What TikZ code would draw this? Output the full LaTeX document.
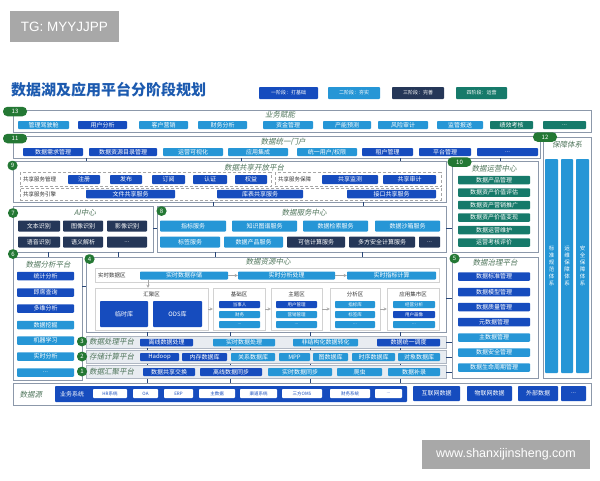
\documentclass[tikz,border=0pt]{standalone}
\usepackage{fontspec}
\setmainfont{Noto Sans CJK SC}
\newfontfamily\itfont{Noto Sans CJK SC}[FakeSlant=0.2]
\newfontfamily\wmfont{Liberation Sans}
\definecolor{cdk}{RGB}{22,76,190}
\definecolor{clt}{RGB}{38,150,214}
\definecolor{cnv}{RGB}{37,55,88}
\definecolor{ctl}{RGB}{22,122,106}
\definecolor{cbadge}{RGB}{36,120,52}
\definecolor{ctitle}{RGB}{28,90,175}
\definecolor{cgroup}{RGB}{80,118,92}
\definecolor{cpanel}{RGB}{140,152,170}
\definecolor{cband}{RGB}{232,236,241}
\definecolor{clink}{RGB}{40,70,120}
\definecolor{cwm}{RGB}{168,168,168}
\begin{document}
\begin{tikzpicture}[x=1pt,y=-1pt]
\tikzstyle{box} = [rectangle, rounded corners=0.8pt, inner sep=0pt, minimum height=8pt, text=white, font=\fontsize{6}{6.5}\selectfont]
\tikzstyle{dkbox} = [box, fill=cdk]
\tikzstyle{ltbox} = [box, fill=clt]
\tikzstyle{nvbox} = [box, fill=cnv]
\tikzstyle{tlbox} = [box, fill=ctl]
\tikzstyle{smallbox} = [minimum height=7pt, font=\fontsize{4.5}{5}\selectfont]
\tikzstyle{panel} = [rectangle, draw=cpanel, line width=0.6pt, fill=white, inner sep=0pt]
\tikzstyle{band} = [panel, fill=cband, draw=cpanel!70]
\tikzstyle{zone} = [rectangle, draw=gray!35, fill=white, inner sep=0pt]
\tikzstyle{share} = [rectangle, draw=gray!70, densely dashed, line width=0.5pt, inner sep=0pt]
\tikzstyle{badge} = [rectangle, rounded corners=4.5pt, fill=cbadge, text=white, minimum width=10pt, minimum height=9.5pt, inner sep=0pt, font=\fontsize{6}{6}\selectfont]
\tikzstyle{grouptitle} = [inner sep=0pt, text=cgroup, font=\itfont\fontsize{7.5}{8}\selectfont]
\tikzstyle{zonetitle} = [inner sep=0pt, text=black!80, font=\fontsize{5.5}{6}\selectfont]
\tikzstyle{link} = [draw=clink, line width=1pt]
\tikzstyle{flow} = [->, >=stealth, draw=gray!70, line width=0.4pt]
\tikzstyle{wmark} = [fill=cwm, text=white, inner sep=0pt]
\useasboundingbox (0,0) rectangle (600,480);
%
\node (wm1) [wmark, minimum width=109pt, minimum height=31pt, font=\wmfont\fontsize{13.5}{14}\selectfont] at (64.5,26.5) {TG: MYYJJPP};
\node (wm2) [wmark, minimum width=168pt, minimum height=29pt, font=\wmfont\fontsize{12.5}{13}\selectfont] at (506,454.5) {www.shanxijinsheng.com};
%
\node (title) [anchor=west, inner sep=0pt, text=ctitle, font=\bfseries\fontsize{15}{16}\selectfont] at (11,90) {数据湖及应用平台分阶段规划};
\node (leg1) [dkbox, minimum width=59pt, minimum height=12pt, font=\fontsize{5}{6}\selectfont] at (288.5,93) {一阶段：打基础};
\node (leg2) [ltbox, minimum width=52pt, minimum height=12pt, font=\fontsize{5}{6}\selectfont] at (354,93) {二阶段：夯实};
\node (leg3) [nvbox, minimum width=52pt, minimum height=12pt, font=\fontsize{5}{6}\selectfont] at (418,93) {三阶段：完善};
\node (leg4) [tlbox, minimum width=51pt, minimum height=12pt, font=\fontsize{5}{6}\selectfont] at (481.5,93) {四阶段：运营};
%
% panels
\node (p13) [panel, minimum width=578pt, minimum height=22pt] at (302,121) {};
\node (p11) [panel, minimum width=527pt, minimum height=22pt] at (276.5,147) {};
\node (p9) [panel, minimum width=433pt, minimum height=41pt] at (229.5,181.5) {};
\node (p10) [panel, minimum width=86pt, minimum height=91pt] at (495,206.5) {};
\node (p12) [panel, minimum width=48pt, minimum height=241pt] at (567,257.5) {};
\node (p7) [panel, minimum width=140pt, minimum height=46pt] at (83,229) {};
\node (p8) [panel, minimum width=289pt, minimum height=46pt] at (301.5,229) {};
\node (p6) [panel, minimum width=69pt, minimum height=123pt] at (47.5,318.5) {};
\node (p4) [panel, minimum width=360pt, minimum height=75pt] at (266,294.5) {};
\node (p5) [panel, minimum width=86pt, minimum height=121pt] at (495,317.5) {};
\node (p3) [band, minimum width=360pt, minimum height=12pt] at (266,342) {};
\node (p2) [band, minimum width=360pt, minimum height=13pt] at (266,357) {};
\node (p1) [band, minimum width=360pt, minimum height=13pt] at (266,372) {};
\node (p0) [panel, minimum width=578pt, minimum height=22pt] at (302,394) {};
%
% 13
\node (t13) [grouptitle] at (280,115) {业务赋能};
\node (u1) [ltbox, minimum width=51pt] at (43.5,125) {管理驾驶舱};
\node (u2) [dkbox, minimum width=49pt] at (102.5,125) {用户分析};
\node (u3) [ltbox, minimum width=49pt] at (163.5,125) {客户营销};
\node (u4) [ltbox, minimum width=49pt] at (222.5,125) {财务分析};
\node (u5) [ltbox, minimum width=50pt] at (288,125) {资金管理};
\node (u6) [ltbox, minimum width=48pt] at (347,125) {产能预测};
\node (u7) [ltbox, minimum width=50pt] at (403,125) {风险审计};
\node (u8) [ltbox, minimum width=46pt] at (460,125) {监管报送};
\node (u9) [tlbox, minimum width=43pt] at (511.5,125) {绩效考核};
\node (u10) [tlbox, minimum width=43pt] at (564.5,125) {...};
% 11
\node (t11) [grouptitle] at (283,142) {数据统一门户};
\node (m1) [dkbox, minimum width=60pt] at (53,152) {数据需求管理};
\node (m2) [dkbox, minimum width=68pt] at (123,152) {数据资源目录管理};
\node (m3) [ltbox, minimum width=60pt] at (193,152) {运营可视化};
\node (m4) [ltbox, minimum width=60pt] at (258,152) {应用集成};
\node (m5) [ltbox, minimum width=60pt] at (327,152) {统一用户/权限};
\node (m6) [dkbox, minimum width=51pt] at (387.5,152) {租户管理};
\node (m7) [dkbox, minimum width=52pt] at (445,152) {平台管理};
\node (m8) [dkbox, minimum width=61pt] at (507.5,152) {...};
% 9
\node (t9) [grouptitle] at (254,167.5) {数据共享开放平台};
\node (d1) [share, minimum width=251pt, minimum height=14pt] at (145.5,179.5) {};
\node (d2) [share, minimum width=166pt, minimum height=14pt] at (358,179.5) {};
\node (d3) [share, minimum width=421pt, minimum height=12pt] at (230.5,194) {};
\node (d1t) [zonetitle, anchor=west] at (23,179.5) {共享服务管理};
\node (d2t) [zonetitle, anchor=west] at (278,179.5) {共享服务保障};
\node (d3t) [zonetitle, anchor=west] at (23,194) {共享服务引擎};
\node (s1) [dkbox, minimum width=32pt, minimum height=9pt] at (84,179.5) {注册};
\node (s2) [dkbox, minimum width=32pt, minimum height=9pt] at (126,179.5) {发布};
\node (s3) [dkbox, minimum width=33pt, minimum height=9pt] at (168.5,179.5) {订阅};
\node (s4) [dkbox, minimum width=34pt, minimum height=9pt] at (210,179.5) {认证};
\node (s5) [dkbox, minimum width=32pt, minimum height=9pt] at (251,179.5) {权益};
\node (s6) [dkbox, minimum width=56pt, minimum height=9pt] at (350,179.5) {共享监测};
\node (s7) [dkbox, minimum width=53pt, minimum height=9pt] at (409.5,179.5) {共享审计};
\node (s8) [dkbox, minimum width=89pt, minimum height=8.5pt] at (130.5,194) {文件共享服务};
\node (s9) [dkbox, minimum width=86pt, minimum height=8.5pt] at (260,194) {库表共享服务};
\node (s10) [dkbox, minimum width=89pt, minimum height=8.5pt] at (391.5,194) {接口共享服务};
% 10
\node (t10) [grouptitle] at (494,169) {数据运营中心};
\node (o1) [tlbox, minimum width=72pt, minimum height=8.5pt] at (494,180) {数据产品管理};
\node (o2) [tlbox, minimum width=72pt, minimum height=8.5pt] at (494,192.5) {数据资产价值评估};
\node (o3) [tlbox, minimum width=72pt, minimum height=8.5pt] at (494,205) {数据资产营销推广};
\node (o4) [tlbox, minimum width=72pt, minimum height=8.5pt] at (494,217.5) {数据资产价值变现};
\node (o5) [tlbox, minimum width=72pt, minimum height=8.5pt] at (494,230) {数据运营维护};
\node (o6) [tlbox, minimum width=72pt, minimum height=8.5pt] at (494,242.5) {运营考核评价};
% 12
\node (t12) [grouptitle] at (567,145) {保障体系};
\node (g12a) [ltbox, minimum width=13pt, minimum height=214pt, align=center, font=\fontsize{5.5}{7}\selectfont] at (551.5,266) {标\\准\\规\\范\\体\\系};
\node (g12b) [ltbox, minimum width=12pt, minimum height=214pt, align=center, font=\fontsize{5.5}{7}\selectfont] at (567,266) {运\\维\\保\\障\\体\\系};
\node (g12c) [ltbox, minimum width=13pt, minimum height=214pt, align=center, font=\fontsize{5.5}{7}\selectfont] at (582.5,266) {安\\全\\保\\障\\体\\系};
% 7
\node (t7) [grouptitle] at (85,213) {AI中心};
\node (a1) [nvbox, minimum width=42pt, minimum height=11pt] at (39,226) {文本识别};
\node (a2) [nvbox, minimum width=40pt, minimum height=11pt] at (83,226) {图像识别};
\node (a3) [nvbox, minimum width=40pt, minimum height=11pt] at (127,226) {影像识别};
\node (a4) [nvbox, minimum width=42pt, minimum height=11pt] at (39,242) {语音识别};
\node (a5) [nvbox, minimum width=40pt, minimum height=11pt] at (83,242) {语义解析};
\node (a6) [nvbox, minimum width=40pt, minimum height=11pt] at (127,242) {...};
% 8
\node (t8) [grouptitle] at (304,213) {数据服务中心};
\node (v1) [ltbox, minimum width=66pt, minimum height=11pt] at (193,226) {指标服务};
\node (v2) [ltbox, minimum width=65pt, minimum height=11pt] at (264.5,226) {知识图谱服务};
\node (v3) [ltbox, minimum width=65pt, minimum height=11pt] at (335.5,226) {数据检索服务};
\node (v4) [ltbox, minimum width=65pt, minimum height=11pt] at (407.5,226) {数据沙箱服务};
\node (v5) [ltbox, minimum width=60pt, minimum height=11pt] at (190,242) {标签服务};
\node (v6) [ltbox, minimum width=59pt, minimum height=11pt] at (253.5,242) {数据产品服务};
\node (v7) [nvbox, minimum width=58pt, minimum height=11pt] at (316,242) {可信计算服务};
\node (v8) [nvbox, minimum width=66pt, minimum height=11pt] at (382,242) {多方安全计算服务};
\node (v9) [nvbox, minimum width=21pt, minimum height=11pt] at (429.5,242) {...};
% 6
\node (t6) [grouptitle] at (48,265) {数据分析平台};
\node (n1) [dkbox, minimum width=57pt, minimum height=8.5pt] at (45.5,276) {统计分析};
\node (n2) [dkbox, minimum width=57pt, minimum height=8.5pt] at (45.5,292.5) {即席查询};
\node (n3) [dkbox, minimum width=57pt, minimum height=8.5pt] at (45.5,308.5) {多维分析};
\node (n4) [ltbox, minimum width=57pt, minimum height=8.5pt] at (45.5,325) {数据挖掘};
\node (n5) [ltbox, minimum width=57pt, minimum height=8.5pt] at (45.5,340.5) {机器学习};
\node (n6) [ltbox, minimum width=57pt, minimum height=8.5pt] at (45.5,356.5) {实时分析};
\node (n7) [ltbox, minimum width=57pt, minimum height=8.5pt] at (45.5,372.5) {...};
% 4
\node (t4) [grouptitle] at (268,262) {数据资源中心};
\node (zrt) [zone, minimum width=344pt, minimum height=14pt] at (267,275) {};
\node (zrtt) [zonetitle, anchor=west] at (98,275) {实时数据区};
\node (r1) [ltbox] [minimum width=88pt] at (184,275.5) {实时数据存储};
\node (r2) [ltbox] [minimum width=97pt] at (286.5,275.5) {实时分析处理};
\node (r3) [ltbox] [minimum width=89pt] at (391.5,275.5) {实时指标计算};
\node (zh) [zone, minimum width=113pt, minimum height=42pt] at (151.5,309) {};
\node (zb) [zone, minimum width=52pt, minimum height=42pt] at (239,309) {};
\node (zt) [zone, minimum width=51pt, minimum height=42pt] at (296.5,309) {};
\node (za) [zone, minimum width=50pt, minimum height=42pt] at (355,309) {};
\node (zm) [zone, minimum width=52pt, minimum height=42pt] at (413,309) {};
\node (zht) [zonetitle] at (151.5,294) {汇聚区};
\node (zbt) [zonetitle] at (239,294) {基础区};
\node (ztt) [zonetitle] at (296.5,294) {主题区};
\node (zat) [zonetitle] at (355,294) {分析区};
\node (zmt) [zonetitle] at (413,294) {应用集市区};
\node (h1) [dkbox, minimum width=48pt, minimum height=26pt] at (124,314) {临时库};
\node (h2) [dkbox, minimum width=49pt, minimum height=26pt] at (177.5,314) {ODS库};
\node (bz1) [dkbox, smallbox, minimum width=41pt] at (239.5,304.5) {当事人};
\node (bz2) [ltbox, smallbox, minimum width=41pt] at (239.5,314.5) {财务};
\node (bz3) [ltbox, smallbox, minimum width=41pt] at (239.5,324.5) {...};
\node (e1) [dkbox, smallbox, minimum width=41pt] at (296.5,304.5) {用户管理};
\node (e2) [ltbox, smallbox, minimum width=41pt] at (296.5,314.5) {营销管理};
\node (e3) [ltbox, smallbox, minimum width=41pt] at (296.5,324.5) {...};
\node (f1) [ltbox, smallbox, minimum width=40pt] at (355,304.5) {指标库};
\node (f2) [ltbox, smallbox, minimum width=40pt] at (355,314.5) {标签库};
\node (f3) [ltbox, smallbox, minimum width=40pt] at (355,324.5) {...};
\node (k1) [ltbox, smallbox, minimum width=42pt] at (414,304.5) {经营分析};
\node (k2) [dkbox, smallbox, minimum width=42pt] at (414,314.5) {用户画像};
\node (k3) [ltbox, smallbox, minimum width=42pt] at (414,324.5) {...};
% 5
\node (t5) [grouptitle] at (495,263) {数据治理平台};
\node (q1) [dkbox, minimum width=72pt, minimum height=8.5pt] at (494,276.5) {数据标准管理};
\node (q2) [dkbox, minimum width=72pt, minimum height=8.5pt] at (494,292) {数据模型管理};
\node (q3) [dkbox, minimum width=72pt, minimum height=8.5pt] at (494,307) {数据质量管理};
\node (q4) [dkbox, minimum width=72pt, minimum height=8.5pt] at (494,322) {元数据管理};
\node (q5) [ltbox, minimum width=72pt, minimum height=8.5pt] at (494,337.5) {主数据管理};
\node (q6) [ltbox, minimum width=72pt, minimum height=8.5pt] at (494,352.5) {数据安全管理};
\node (q7) [ltbox, minimum width=72pt, minimum height=8.5pt] at (494,367.5) {数据生命周期管理};
% 3 2 1
\node (t3) [grouptitle, anchor=west] at (89,342) {数据处理平台};
\node (t2) [grouptitle, anchor=west] at (89,357) {存储计算平台};
\node (t1) [grouptitle, anchor=west] at (89,372) {数据汇聚平台};
\node (w1) [dkbox, minimum width=53pt, minimum height=7.5pt] at (166.5,342.5) {离线数据处理};
\node (w2) [ltbox, minimum width=62pt, minimum height=7.5pt] at (244,342.5) {实时数据处理};
\node (w3) [ltbox, minimum width=65pt, minimum height=7.5pt] at (325.5,342.5) {非结构化数据转化};
\node (w4) [dkbox, minimum width=63pt, minimum height=7.5pt] at (408.5,342.5) {数据统一调度};
\node (c1) [dkbox, minimum width=39pt] at (159.5,357) {Hadoop};
\node (c2) [dkbox, minimum width=45pt] at (204.5,357) {内存数据库};
\node (c3) [ltbox, minimum width=44pt] at (253,357) {关系数据库};
\node (c4) [ltbox, minimum width=31pt] at (294.5,357) {MPP};
\node (c5) [ltbox, minimum width=35pt] at (330.5,357) {图数据库};
\node (c6) [ltbox, minimum width=43pt] at (373.5,357) {时序数据库};
\node (c7) [ltbox, minimum width=42pt] at (419,357) {对象数据库};
\node (j1) [dkbox, minimum width=52pt] at (169,372) {数据共享交换};
\node (j2) [dkbox, minimum width=62pt] at (231,372) {离线数据同步};
\node (j3) [ltbox, minimum width=64pt] at (300,372) {实时数据同步};
\node (j4) [ltbox, minimum width=45pt] at (359.5,372) {爬虫};
\node (j5) [ltbox, minimum width=52pt] at (414,372) {数据补录};
% sources
\node (t0) [grouptitle] at (31,395) {数据源};
\node (ys) [dkbox, minimum width=352pt, minimum height=16pt] at (231,394) {};
\node (yst) [inner sep=0pt, text=white, font=\fontsize{6}{6.5}\selectfont] at (72,394) {业务系统};
\node (x1) [box, smallbox, fill=white, text=cdk, minimum width=34pt, minimum height=9pt] at (110,393.5) {HR系统};
\node (x2) [box, smallbox, fill=white, text=cdk, minimum width=25pt, minimum height=9pt] at (145.5,393.5) {OA};
\node (x3) [box, smallbox, fill=white, text=cdk, minimum width=29pt, minimum height=9pt] at (178.5,393.5) {ERP};
\node (x4) [box, smallbox, fill=white, text=cdk, minimum width=36pt, minimum height=9pt] at (217,393.5) {主数据};
\node (x5) [box, smallbox, fill=white, text=cdk, minimum width=37pt, minimum height=9pt] at (258.5,393.5) {渠道系统};
\node (x6) [box, smallbox, fill=white, text=cdk, minimum width=40pt, minimum height=9pt] at (302,393.5) {三方OMS};
\node (x7) [box, smallbox, fill=white, text=cdk, minimum width=40pt, minimum height=9pt] at (350,393.5) {财务系统};
\node (x8) [box, smallbox, fill=white, text=cdk, minimum width=27pt, minimum height=9pt] at (388.5,393.5) {...};
\node (i1) [dkbox, minimum width=47pt, minimum height=15pt] at (436.5,393.5) {互联网数据};
\node (i2) [dkbox, minimum width=45pt, minimum height=15pt] at (489.5,393.5) {物联网数据};
\node (i3) [dkbox, minimum width=40pt, minimum height=15pt] at (538,393.5) {外部数据};
\node (i4) [dkbox, minimum width=25pt, minimum height=15pt] at (573.5,393.5) {...};
%
% badges
\node (b13) [badge, minimum width=24pt] at (15,111.5) {13};
\node (b11) [badge, minimum width=24pt] at (15,138.5) {11};
\node (b12) [badge, minimum width=24pt] at (545,137) {12};
\node (b10) [badge, minimum width=24pt] at (459.5,162) {10};
\node (b9) [badge] at (12.5,165.5) {9};
\node (b7) [badge] at (13,213) {7};
\node (b8) [badge] at (161.5,211) {8};
\node (b6) [badge] at (13,254) {6};
\node (b4) [badge] at (89.5,259) {4};
\node (b5) [badge] at (454.5,258.5) {5};
\node (b3) [badge] at (82,341.5) {3};
\node (b2) [badge] at (82,356.5) {2};
\node (b1) [badge] at (82,371.5) {1};
%
\draw [flow] (r1) -- (r2);
\draw [flow] (r2) -- (r3);
\draw [flow] (r1.south -| 148,0) -- (zh.north -| 148,0);
\draw [flow] (zh) -- (zb);
\draw [flow] (zb) -- (zt);
\draw [flow] (zt) -- (za);
\draw [flow] (za) -- (zm);
%
\draw [link] (p11.south -| 86,0) -- (p9.north -| 86,0);
\draw [link] (p11.south -| 241,0) -- (p9.north -| 241,0);
\draw [link] (p11.south -| 400,0) -- (p9.north -| 400,0);
\draw [link] (p11.south -| 500,0) -- (p10.north -| 500,0);
\draw [link] (p9.south -| 213,0) -- (p8.north -| 213,0);
\draw [link] (p9.south -| 363,0) -- (p8.north -| 363,0);
\draw [link] (p7.east |- 0,228) -- (p8.west |- 0,228);
\draw [link] (p8.east |- 0,228) -- (p10.west |- 0,228);
\draw [link] (p7.south -| 48,0) -- (p6.north -| 48,0);
\draw [link] (p7.south -| 118,0) -- (p4.north -| 118,0);
\draw [link] (p8.south -| 215,0) -- (p4.north -| 215,0);
\draw [link] (p8.south -| 362,0) -- (p4.north -| 362,0);
\draw [link] (p6.east |- 0,286) -- (p4.west |- 0,286);
\draw [link] (p4.east |- 0,298) -- (p5.west |- 0,298);
\draw [link] (p3.east |- 0,342) -- (p5.west |- 0,342);
\draw [link] (p2.east |- 0,357) -- (p5.west |- 0,357);
\draw [link] (p1.east |- 0,372) -- (p5.west |- 0,372);
\foreach \x in {147,230,310,400} {
  \draw [link] (p4.south -| \x,0) -- (p3.north -| \x,0);
  \draw [link] (p3.south -| \x,0) -- (p2.north -| \x,0);
  \draw [link] (p2.south -| \x,0) -- (p1.north -| \x,0);
  \draw [link] (p1.south -| \x,0) -- (p0.north -| \x,0);
}
\end{tikzpicture}
\end{document}
